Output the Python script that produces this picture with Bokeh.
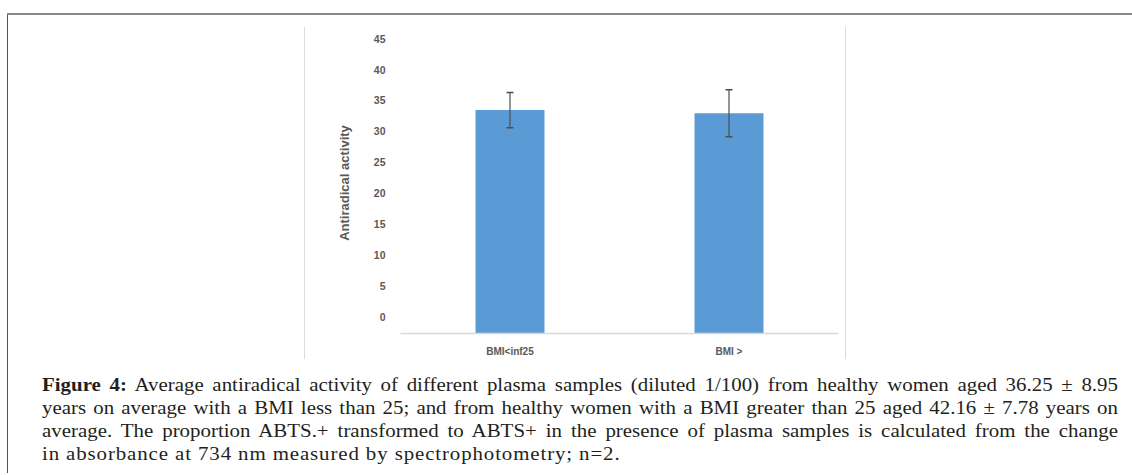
from bokeh.plotting import figure
from bokeh.models import (ColumnDataSource, FactorRange, Range1d, FixedTicker,
                          Whisker, TeeHead, Spacer, Div)
from bokeh.layouts import column, row
from bokeh.embed import file_html
from bokeh.resources import INLINE

# --- data -----------------------------------------------------------------
groups = ["BMI<inf25", "BMI >"]
activity = [33.45, 32.95]
activity_err = [2.85, 3.8]
y_ticks = [0, 5, 10, 15, 20, 25, 30, 35, 40, 45]

# value axis limits
y_floor = -2.7
y_top = 46

AXIS_GREY = "#595959"
BAR_BLUE = "#5b9bd5"

src = ColumnDataSource(data=dict(
    group=groups,
    value=activity,
    upper=[v + e for v, e in zip(activity, activity_err)],
    lower=[v - e for v, e in zip(activity, activity_err)],
))

p = figure(
    x_range=FactorRange(*groups),
    y_range=Range1d(y_floor, y_top),
    width=540, height=332,
    min_border_left=95, min_border_right=7,
    min_border_top=5, min_border_bottom=19,
    output_backend="svg", toolbar_location=None,
    background_fill_color="white", border_fill_color="white",
)
p.outline_line_color = None
p.xgrid.visible = False
p.ygrid.visible = False

p.vbar(x="group", top="value", bottom=y_floor, width=0.315,
       fill_color=BAR_BLUE, line_color=None, source=src)

p.add_layout(Whisker(
    base="group", upper="upper", lower="lower", source=src,
    level="overlay",
    line_color="#4d4d4d", line_width=1.2,
    upper_head=TeeHead(size=7, line_color="#4d4d4d", line_width=1.5),
    lower_head=TeeHead(size=7, line_color="#4d4d4d", line_width=1.5),
))

# value axis: labels only
p.yaxis.ticker = FixedTicker(ticks=y_ticks)
p.yaxis.axis_line_color = None
p.yaxis.major_tick_line_color = None
p.yaxis.minor_tick_line_color = None
p.yaxis.major_label_text_font = "Liberation Sans"
p.yaxis.major_label_text_font_style = "bold"
p.yaxis.major_label_text_font_size = "10.5px"
p.yaxis.major_label_text_color = AXIS_GREY
p.yaxis.major_label_standoff = 9
p.yaxis.axis_label = "Antiradical activity"
p.yaxis.axis_label_text_font = "Liberation Sans"
p.yaxis.axis_label_text_font_style = "bold"
p.yaxis.axis_label_text_font_size = "13px"
p.yaxis.axis_label_text_color = AXIS_GREY
p.yaxis.axis_label_standoff = 19

# category axis
p.xaxis.axis_line_color = "#d9d9d9"
p.xaxis.axis_line_width = 1.5
p.xaxis.major_tick_line_color = None
p.xaxis.minor_tick_line_color = None
p.xaxis.major_label_text_font = "Liberation Sans"
p.xaxis.major_label_text_font_style = "bold"
p.xaxis.major_label_text_font_size = "10px"
p.xaxis.major_label_text_color = AXIS_GREY
p.xaxis.major_label_standoff = 6

# --- caption ----------------------------------------------------------------
caption_lines = [
    "<b>Figure 4:</b> Average antiradical activity of different plasma samples "
    "(diluted 1/100) from healthy women aged 36.25 &plusmn; 8.95",
    "years on average with a BMI less than 25; and from healthy women with a BMI "
    "greater than 25 aged 42.16 &plusmn; 7.78 years on",
    "average. The proportion ABTS.+ transformed to ABTS+ in the presence of plasma "
    "samples is calculated from the change",
    "in absorbance at 734 nm measured by spectrophotometry; n=2.",
]
stretch = 1.1
box_w = 1076
line_html = []
for i, line in enumerate(caption_lines):
    if i == len(caption_lines) - 1:
        style = "text-align:left;letter-spacing:0.8px;white-space:nowrap;"
    else:
        style = "text-align:justify;text-align-last:justify;white-space:nowrap;"
    line_html.append(f'<div style="{style}">{line}</div>')
caption_html = (
    '<div style="font-family:\'Liberation Serif\',serif;font-size:19px;'
    f'line-height:23px;color:#231f20;width:{box_w / stretch:.1f}px;'
    f'transform:scaleX({stretch});transform-origin:0 0;padding-top:2px;">'
    + "".join(line_html) + "</div>"
)
caption = Div(text=caption_html, width=box_w, height=95, margin=0)


def rule(w, h, color):
    return Spacer(width=w, height=h, margin=0, styles={"background-color": color})


chart_row = row(
    Spacer(width=296, height=332, margin=0),
    rule(1, 332, "#dcdcdc"),
    p,
    rule(1, 332, "#dcdcdc"),
    spacing=0,
)
content = column(
    Spacer(width=1100, height=12, margin=0),
    chart_row,
    Spacer(width=1100, height=12, margin=0),
    row(Spacer(width=34, height=95, margin=0), caption, spacing=0),
    spacing=0,
)
page = column(
    Spacer(width=1132, height=13, margin=0),
    row(Spacer(width=7, height=2, margin=0), rule(1125, 2, "#8a8a8a"), spacing=0),
    row(Spacer(width=7, height=458, margin=0), rule(1, 458, "#555555"), content, spacing=0),
    spacing=0,
)

open("out.html", "w").write(file_html(page, INLINE))
